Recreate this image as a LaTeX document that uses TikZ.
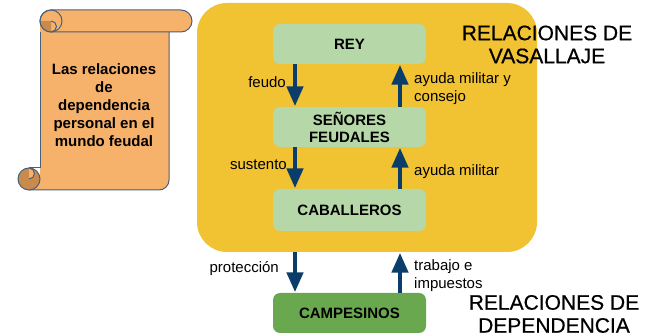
\documentclass[tikz,border=0pt]{standalone}
\usepackage{fontspec}
\setmainfont{Liberation Sans}
\newfontfamily\titlefont[FakeBold=0.5]{Liberation Sans}
\usetikzlibrary{arrows.meta}
\definecolor{scroll}{HTML}{F6B26B}
\definecolor{curl}{HTML}{C98B4C}
\definecolor{scrolledge}{HTML}{4A5F7A}
\definecolor{cont}{HTML}{F1C232}
\definecolor{lgreen}{HTML}{B6D7A8}
\definecolor{dgreen}{HTML}{6AA84F}
\definecolor{arrblue}{HTML}{0B3D6B}
\tikzset{
  boxnode/.style={rectangle, rounded corners=7pt, minimum width=153pt, minimum height=40pt,
    inner sep=0pt, align=center, font=\fontsize{15}{17}\selectfont\bfseries},
  lbl/.style={inner sep=0pt, align=left, font=\fontsize{15}{18}\selectfont},
  flow/.style={draw=arrblue, line width=4.5pt, -{Triangle[width=16pt,length=20pt]}, shorten >=0.5pt},
  titletxt/.style={inner sep=0pt, align=center, font=\titlefont\fontsize{21}{23}\selectfont},
  sedge/.style={draw=scrolledge, line width=1pt}
}
\begin{document}
\begin{tikzpicture}[x=1pt,y=-1pt]
\useasboundingbox (0,0) rectangle (659,336);
\fill[white] (0,0) rectangle (659,336);
% scroll
\fill[scroll] (40,21) -- (40,179) -- (29,179) -- (29,190) -- (159,190) arc[start angle=90, end angle=0, radius=10] -- (169,21) -- cycle;
\draw[sedge] (40,32) -- (40,168);
\draw[sedge] (29,190) -- (159,190) arc[start angle=90, end angle=0, radius=10] -- (169,32);
\draw[sedge, fill=scroll, rounded corners=11pt] (40,10) rectangle (192,32);
\fill[curl] (40,21) arc[start angle=180, end angle=90, radius=11] -- (51,21) -- cycle;
\draw[sedge] (51,21) arc[start angle=-90, end angle=90, radius=5.5];
\draw[sedge] (51,21) circle[radius=11];
\draw[sedge, fill=curl] (29,179) circle[radius=11];
\fill[scroll] (29,168) arc[start angle=-90, end angle=90, radius=5.5] -- cycle;
\draw[sedge] (29,168) arc[start angle=-90, end angle=90, radius=5.5];
\draw[sedge] (29,168) -- (40,168);
\node[inner sep=0pt, align=center, font=\fontsize{15}{18}\selectfont\bfseries] (scrolltxt) at (104,105)
  {Las relaciones\\de\\dependencia\\personal en el\\mundo feudal};
% container
\node[rectangle, rounded corners=30pt, fill=cont, minimum width=340pt, minimum height=249pt, inner sep=0pt] (cont) at (367,127.5) {};
\node[boxnode, fill=lgreen] (rey) at (349.5,44) {REY};
\node[boxnode, fill=lgreen] (sen) at (349.5,127) {SEÑORES\\FEUDALES};
\node[boxnode, fill=lgreen, minimum height=42pt] (cab) at (349.5,210) {CABALLEROS};
\node[boxnode, fill=dgreen] (camp) at (349.5,313) {CAMPESINOS};
\coordinate (dx) at (295,0);
\coordinate (ux) at (400,0);
\draw[flow] (rey.south -| dx) -- (sen.north -| dx);
\draw[flow] (sen.north -| ux) -- (rey.south -| ux);
\draw[flow] (sen.south -| dx) -- (cab.north -| dx);
\draw[flow] (cab.north -| ux) -- (sen.south -| ux);
\draw[flow] (cont.south -| dx) -- (camp.north -| dx);
\draw[flow] (camp.north -| ux) -- (cont.south -| ux);
% labels
\node[lbl, anchor=east] (lfeudo) at (286,82) {feudo};
\node[lbl, anchor=west] (layuda1) at (414,89) {ayuda militar y\\consejo};
\node[lbl, anchor=east] (lsust) at (287,165) {sustento};
\node[lbl, anchor=west] (layuda2) at (414,172) {ayuda militar};
\node[lbl, anchor=east] (lprot) at (279,269) {protección};
\node[lbl, anchor=west] (ltrab) at (414,276) {trabajo e\\impuestos};
% titles
\node[titletxt] (tvas) at (547,44.5) {RELACIONES DE\\VASALLAJE};
\node[titletxt] (tdep) at (554,314) {RELACIONES DE\\DEPENDENCIA};
\end{tikzpicture}
\end{document}
